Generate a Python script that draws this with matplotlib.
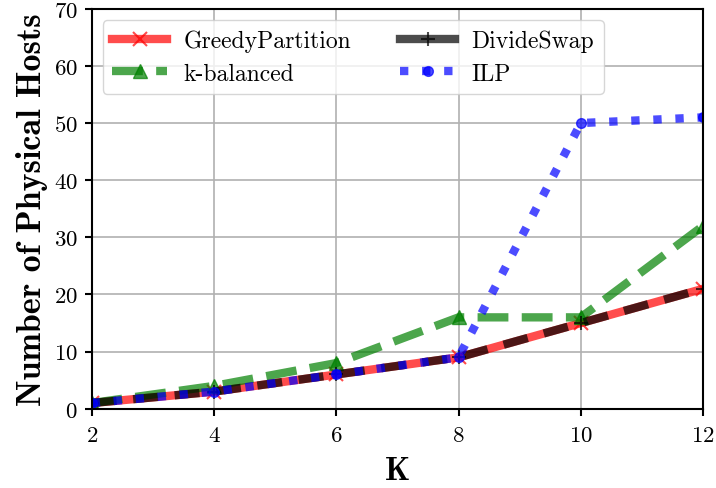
import matplotlib
matplotlib.use("Agg")
import matplotlib.pyplot as plt
from matplotlib.lines import Line2D

K = [2, 4, 6, 8, 10, 12]
greedy = [1, 3, 6, 9, 15, 21]
kbal = [1, 4, 8, 16, 16, 32]
divide = [1, 3, 6, 9, 15, 21]
ilp = [1, 3, 6, 9, 50, 51]

plt.rcParams['font.family'] = ['cmr10', 'DejaVu Serif']
plt.rcParams['axes.formatter.use_mathtext'] = True

fig = plt.figure(figsize=(7.16, 4.89), dpi=100)
ax = fig.add_axes([0.128, 0.162, 0.854, 0.818])

ax.plot(K, greedy, color='red', lw=6, alpha=0.7, marker='x', ms=10, mew=1.5)
ax.plot(K, kbal, color='green', lw=6, ls='--', alpha=0.7, marker='^', ms=10)
ax.plot(K, divide, color='black', lw=6, alpha=0.7, marker='+', ms=10, mew=1.5, dashes=(3, 2))
ax.plot(K, ilp, color='blue', lw=6, ls=':', alpha=0.7, marker='o', ms=7)

handles = [
    Line2D([], [], color='red', lw=6, alpha=0.7, marker='x', ms=10, mew=1.5),
    Line2D([], [], color='green', lw=6, ls='--', alpha=0.7, marker='^', ms=10),
    Line2D([], [], color='black', lw=6, alpha=0.7, marker='+', ms=10, mew=1.5),
    Line2D([], [], color='blue', lw=6, ls=':', alpha=0.7, marker='o', ms=7),
]
labels = ['GreedyPartition', 'k-balanced', 'DivideSwap', 'ILP']

ax.set_xlim(2, 12)
ax.set_ylim(0, 70)
ax.set_xticks(K)
ax.set_yticks(range(0, 71, 10))
ax.grid(True, color='#b0b0b0', lw=1.2)
ax.tick_params(labelsize=16.5, direction='out', length=5, width=1.5)
ax.tick_params(axis='x', pad=7)
ax.tick_params(axis='y', pad=5)
for s in ax.spines.values():
    s.set_linewidth(1.5)

ax.set_xlabel('K', fontsize=23, fontfamily='cmb10', labelpad=8)
ax.set_ylabel('Number of Physical Hosts', fontsize=24.5, fontfamily='cmb10', labelpad=4)

ax.legend(handles, labels, ncol=2, loc='upper left', fontsize=17, handlelength=2.33,
          handletextpad=0.68, columnspacing=2.1, framealpha=0.8, borderaxespad=0.47,
          labelspacing=0.45)

fig.savefig('out.png', dpi=100)
